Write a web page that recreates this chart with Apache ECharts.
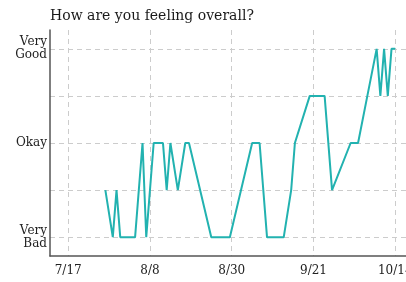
<!DOCTYPE html>
<html>
<head>
<meta charset="utf-8">
<script src="https://cdn.jsdelivr.net/npm/echarts@6/dist/echarts.min.js"></script>
<style>
  html, body { margin: 0; padding: 0; background: #fff; }
  #chart { width: 406px; height: 282px; }
</style>
</head>
<body>
<div id="chart"></div>
<script>
  // days since 7/17
  var dayOffsets = [10, 12, 13, 14, 18, 20, 21, 23, 25.5, 26.5, 27.5, 29.5, 31.5, 32.5, 38.5, 43.5,
    49.5, 51.5, 53.5, 58, 60, 61, 65, 69, 71, 76, 78, 80.5, 83, 84, 85, 86, 87, 88]
  // 1 = Very Bad ... 5 = Very Good
  var moods = [2, 1, 2, 1, 1, 3, 1, 3, 3, 2, 3, 2, 3, 3, 1, 1,
    3, 3, 1, 1, 2, 3, 4, 4, 2, 3, 3, 4, 5, 4, 5, 4, 5, 5]

  var xTickDays = [0, 22, 44, 66, 88]
  var xTickLabels = ['7/17', '8/8', '8/30', '9/21', '10/14']
  var yGridValues = [1, 2, 3, 4, 5]
  var yLabelValues = [1, 3, 5]
  var yLabels = { 1: 'Very\nBad', 3: 'Okay', 5: 'Very\nGood' }

  var serif = 'DejaVu Serif'
  var points = dayOffsets.map(function (d, i) { return [d, moods[i]] })

  var chart = echarts.init(document.getElementById('chart'))
  var option = {
    animation: false,
    title: {
      text: 'How are you feeling overall?',
      left: 45,
      top: 4,
      textStyle: { fontFamily: serif, fontSize: 14, fontWeight: 'normal', color: '#1a1a1a' }
    },
    grid: { left: 50, right: 0, top: 30, bottom: 26, outerBoundsMode: 'none', containLabel: false },
    xAxis: {
      type: 'value',
      min: -4.9,
      max: 90.9,
      axisLine: { show: true, onZero: false, lineStyle: { color: '#555', width: 1.5 } },
      axisTick: { show: false, customValues: xTickDays },
      axisLabel: {
        customValues: xTickDays,
        margin: 9,
        fontFamily: serif,
        fontSize: 12,
        color: '#222',
        formatter: function (v) { return xTickLabels[xTickDays.indexOf(v)] }
      },
      splitLine: { show: true, lineStyle: { color: '#ccc', type: [5, 4], width: 1 } }
    },
    yAxis: {
      type: 'value',
      min: 0.6,
      max: 5.4,
      axisLine: { show: true, onZero: false, lineStyle: { color: '#555', width: 1.5 } },
      axisTick: { show: false, customValues: yGridValues },
      axisLabel: {
        customValues: yLabelValues,
        margin: 3,
        fontFamily: serif,
        fontSize: 12,
        lineHeight: 13,
        color: '#222',
        align: 'right',
        formatter: function (v) { return yLabels[v] }
      },
      splitLine: { show: true, lineStyle: { color: '#ccc', type: [5, 4], width: 1 } }
    },
    series: [{
      type: 'line',
      data: points,
      showSymbol: false,
      lineStyle: { color: '#22b2b0', width: 2 },
      itemStyle: { color: '#22b2b0' }
    }]
  }
  chart.setOption(option)
</script>
</body>
</html>
